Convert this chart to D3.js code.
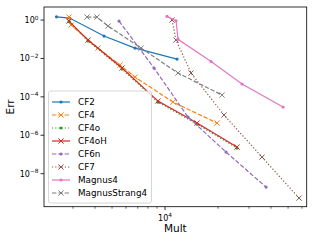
<!DOCTYPE html>
<html>
<head>
<meta charset="utf-8"/>
<title>Err vs Mult</title>
<script src="https://cdn.jsdelivr.net/npm/d3@7"></script>
<style>
  body { margin: 0; background: #fff; }
  svg text { font-family: "DejaVu Sans", sans-serif; fill: #000; }
</style>
</head>
<body>
<div id="chart"></div>
<script>
// series names, in legend order
var names = ["CF2", "CF4", "CF4o", "CF4oH", "CF6n", "CF7", "Magnus4", "MagnusStrang4"];

// multiplications and errors per method
var multCF2 = [2418, 2867, 4502, 6753, 11700];
var errCF2  = [1.47, 1.27, 0.147, 0.0348, 0.0093];

var multCF4 = [2848, 2924, 4159, 5548, 6753, 11100, 19750];
var errCF4  = [1.43, 0.55, 0.0348, 0.00453, 0.00107, 5.36e-5, 4.32e-6];

var multCF4o = [2848, 3651, 5698, 9125, 15200, 25640];
var errCF4o  = [0.85, 0.082, 0.0028, 5.3e-5, 3.8e-6, 2.15e-7];

var multCF4oH = [2848, 3651, 5698, 9125, 15200, 25640];
var errCF4oH  = [0.887, 0.0908, 0.00316, 6.04e-5, 4.32e-6, 2.43e-7];

var multCF6n = [5478, 8660, 13510, 22220, 37480];
var errCF6n  = [0.887, 0.00316, 8.87e-6, 1.33e-7, 2.0e-9];

var multCF7 = [10960, 11550, 14050, 21640, 35570, 57730];
var errCF7  = [1.0, 0.0908, 0.00174, 1.13e-5, 7.3e-8, 5.36e-10];

var multMagnus4 = [10260, 11550, 11850, 18260, 27380, 46820];
var errMagnus4  = [1.56, 0.92, 0.0988, 0.0069, 4.64e-4, 2.94e-5];

var multMS4 = [3604, 4108, 4744, 7305, 11850, 21080];
var errMS4  = [1.43, 1.43, 0.487, 0.0348, 0.00174, 1.24e-4];

var yTicks = [1, 1e-2, 1e-4, 1e-6, 1e-8];
var yTickExp = ["0", "\u22122", "\u22124", "\u22126", "\u22128"];
var xTicks = [1e4];

var W = 316, H = 241;
var margin = {left: 44, right: 9.3, top: 7, bottom: 34.3};

var series = [
  {name: names[0], x: multCF2, y: errCF2, color: "#1f77b4", dash: null, marker: "dot"},
  {name: names[1], x: multCF4, y: errCF4, color: "#ff7f0e", dash: "4.4,1.9", marker: "x"},
  {name: names[2], x: multCF4o, y: errCF4o, color: "#2ca02c", dash: "1.2,2", marker: "dot"},
  {name: names[3], x: multCF4oH, y: errCF4oH, color: "#d62728", dash: null, marker: "x"},
  {name: names[4], x: multCF6n, y: errCF6n, color: "#9467bd", dash: "4.4,1.9", marker: "dot"},
  {name: names[5], x: multCF7, y: errCF7, color: "#8c564b", dash: "1.2,2", marker: "x"},
  {name: names[6], x: multMagnus4, y: errMagnus4, color: "#e377c2", dash: null, marker: "dot"},
  {name: names[7], x: multMS4, y: errMS4, color: "#7f7f7f", dash: "4.4,1.9", marker: "x"}
];

var svg = d3.select("#chart").append("svg")
  .attr("width", W).attr("height", H);

var x = d3.scaleLog()
  .domain([2053, 63800])
  .range([margin.left, W - margin.right]);
var y = d3.scaleLog()
  .domain([Math.pow(10, -9.72), Math.pow(10, 0.68)])
  .range([H - margin.bottom, margin.top]);

var g = svg.append("g");

// clip to the axes box
svg.append("clipPath").attr("id", "clip").append("rect")
  .attr("x", margin.left).attr("y", margin.top)
  .attr("width", W - margin.left - margin.right)
  .attr("height", H - margin.top - margin.bottom);

var plot = g.append("g").attr("clip-path", "url(#clip)");

var line = d3.line().x(function(d) { return x(d[0]); }).y(function(d) { return y(d[1]); });

function drawMarker(sel, kind, color) {
  if (kind === "dot") {
    sel.append("circle").attr("r", 1.6).attr("fill", color).attr("stroke", "none");
  } else {
    sel.append("path").attr("d", "M-2.6,-2.6L2.6,2.6M-2.6,2.6L2.6,-2.6")
      .attr("stroke", color).attr("stroke-width", 1).attr("fill", "none");
  }
}

series.forEach(function(s) {
  var pts = s.x.map(function(v, i) { return [v, s.y[i]]; });
  plot.append("path")
    .attr("d", line(pts))
    .attr("fill", "none")
    .attr("stroke", s.color)
    .attr("stroke-width", 1.2)
    .attr("stroke-dasharray", s.dash);
  plot.selectAll(null).data(pts).enter().append("g")
    .attr("transform", function(d) { return "translate(" + x(d[0]) + "," + y(d[1]) + ")"; })
    .each(function() { drawMarker(d3.select(this), s.marker, s.color); });
});

// x axis: major + minor ticks
var minorX = [];
for (var e = 3; e <= 4; e++) {
  for (var k = 2; k <= 9; k++) {
    var v = k * Math.pow(10, e);
    if (v > x.domain()[0] && v < x.domain()[1]) minorX.push(v);
  }
}
var xAxis = g.append("g").attr("transform", "translate(0," + (H - margin.bottom) + ")");
xAxis.selectAll(".minor").data(minorX).enter().append("line")
  .attr("x1", function(d) { return x(d); }).attr("x2", function(d) { return x(d); })
  .attr("y1", 0).attr("y2", 2).attr("stroke", "#000").attr("stroke-width", 0.6);
xAxis.selectAll(".major").data(xTicks).enter().append("line")
  .attr("x1", function(d) { return x(d); }).attr("x2", function(d) { return x(d); })
  .attr("y1", 0).attr("y2", 3.5).attr("stroke", "#000").attr("stroke-width", 0.8);
var xt = xAxis.selectAll(".lab").data(xTicks).enter().append("text")
  .attr("x", function(d) { return x(d); }).attr("y", 14)
  .attr("text-anchor", "middle").style("font-size", "8px");
xt.append("tspan").text("10");
xt.append("tspan").attr("dy", -3.5).style("font-size", "5.8px").text("4");

// y axis
var yAxis = g.append("g").attr("transform", "translate(" + margin.left + ",0)");
yAxis.selectAll(".major").data(yTicks).enter().append("line")
  .attr("x1", -3.5).attr("x2", 0)
  .attr("y1", function(d) { return y(d); }).attr("y2", function(d) { return y(d); })
  .attr("stroke", "#000").attr("stroke-width", 0.8);
var yt = yAxis.selectAll(".lab").data(yTicks).enter().append("text")
  .attr("x", -5.5).attr("y", function(d) { return y(d) + 3; })
  .attr("text-anchor", "end").style("font-size", "8px");
yt.append("tspan").text("10");
yt.append("tspan").attr("dy", -3.5).style("font-size", "5.8px")
  .text(function(d, i) { return yTickExp[i]; });

// frame
g.append("rect")
  .attr("x", margin.left).attr("y", margin.top)
  .attr("width", W - margin.left - margin.right)
  .attr("height", H - margin.top - margin.bottom)
  .attr("fill", "none").attr("stroke", "#000").attr("stroke-width", 0.8);

// axis labels
g.append("text").attr("x", (margin.left + W - margin.right) / 2).attr("y", 232)
  .attr("text-anchor", "middle").style("font-size", "10.5px").text("Mult");
g.append("text").attr("transform", "translate(14," + ((margin.top + H - margin.bottom) / 2) + ") rotate(-90)")
  .attr("text-anchor", "middle").style("font-size", "10.5px").text("Err");

// legend
var leg = g.append("g");
leg.append("rect").attr("x", 48.5).attr("y", 91).attr("width", 103).attr("height", 112)
  .attr("rx", 2).attr("fill", "#fff").attr("fill-opacity", 0.8)
  .attr("stroke", "#ccc").attr("stroke-width", 0.8);
series.forEach(function(s, i) {
  var yy = 102 + i * 13;
  leg.append("line").attr("x1", 52).attr("x2", 70).attr("y1", yy).attr("y2", yy)
    .attr("stroke", s.color).attr("stroke-width", 1.2).attr("stroke-dasharray", s.dash);
  drawMarker(leg.append("g").attr("transform", "translate(61," + yy + ")"), s.marker, s.color);
  leg.append("text").attr("x", 78).attr("y", yy + 3.2).style("font-size", "8.8px").text(s.name);
});
</script>
</body>
</html>
